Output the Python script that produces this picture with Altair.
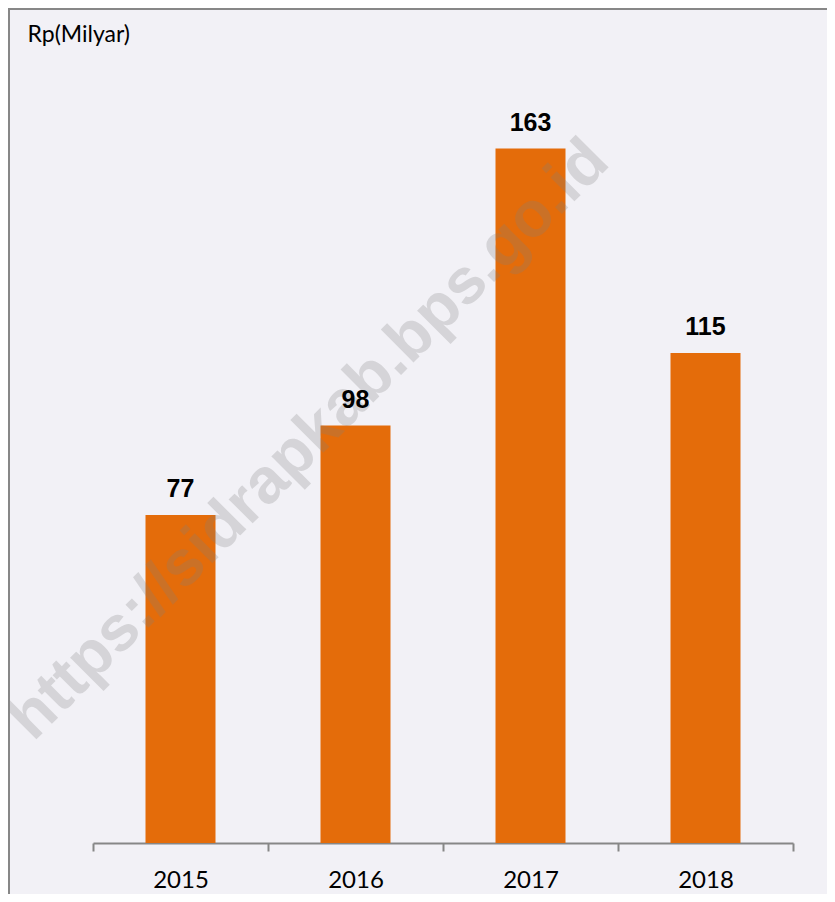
import altair as alt
import pandas as pd

years = ["2015", "2016", "2017", "2018"]
values = [77, 98, 163, 115]
unit_label = "Rp(Milyar)"
watermark = "https://sidrapkab.bps.go.id"

df = pd.DataFrame({"year": years, "value": values})
wm = pd.DataFrame({"t": [watermark]})
one = pd.DataFrame({"k": [0]})

W, H = 819, 886
GRAY = "#878787"

x = alt.X(
    "year:N",
    sort=years,
    scale=alt.Scale(range=[85, 785], paddingInner=0, paddingOuter=0),
    axis=alt.Axis(
        title=None, orient="bottom", offset=-51, labelAngle=0, tickBand="extent",
        ticks=True, tickSize=8, tickWidth=2, tickColor=GRAY, domainColor=GRAY,
        domainWidth=2, labelFont="Lato", labelFontSize=24, labelColor="#000000",
        labelPadding=17, grid=False,
    ),
)
y = alt.Y(
    "value:Q",
    scale=alt.Scale(domain=[0, 196], range=[835, 0], nice=False, zero=True),
    axis=alt.Axis(
        title=unit_label, titleAngle=0, titleX=19, titleY=33, titleAlign="left",
        titleBaseline="alphabetic", titleFont="Lato", titleFontSize=23,
        titleFontWeight="normal", titleColor="#000000",
        labels=False, ticks=False, domain=False, grid=False,
    ),
)

bars = alt.Chart(df).mark_bar(
    color="#E46C0A", width=alt.RelativeBandSize(0.4)
).encode(x=x, y=y)

mark_wm = alt.Chart(wm).mark_text(
    angle=315, font="Liberation Sans", fontWeight="bold", fontSize=64,
    color="#808080", opacity=0.25, align="center", baseline="middle",
).encode(x=alt.value(301), y=alt.value(432), text="t:N")

labels = alt.Chart(df).mark_text(
    font="Liberation Sans", fontWeight="bold", fontSize=25, color="#000000",
    baseline="alphabetic", align="center", dy=-18,
).encode(x=alt.X("year:N", sort=years), y="value:Q", text="value:Q")

border_left = alt.Chart(one).mark_rule(color=GRAY, strokeWidth=2).encode(
    x=alt.value(1), y=alt.value(0), y2=alt.value(H)
)
border_top = alt.Chart(one).mark_rule(color=GRAY, strokeWidth=2).encode(
    x=alt.value(0), x2=alt.value(W), y=alt.value(1)
)

chart = (
    alt.layer(bars, mark_wm, labels, border_left, border_top)
    .properties(
        width=W, height=H, padding=0, background="#F2F1F6",
        autosize=alt.AutoSizeParams(type="none"),
    )
    .configure_view(stroke=None, fill="#F2F1F6")
)

chart.save("out.html", embed_options={"renderer": "svg", "actions": False})
